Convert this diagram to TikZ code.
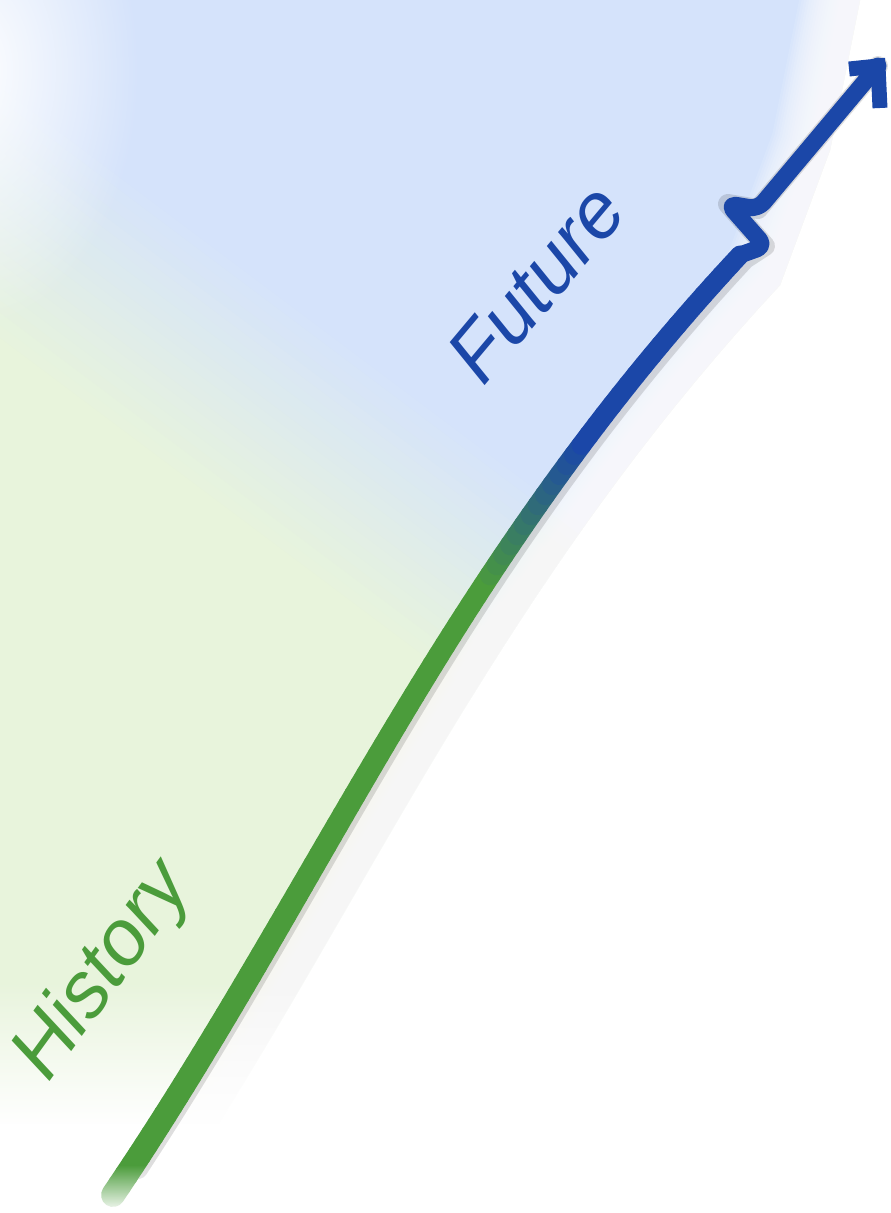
\documentclass[tikz,border=0pt]{standalone}
\usepackage{fontspec}
\setmainfont{Liberation Sans}
\usetikzlibrary{fadings}

\definecolor{skyblue}{HTML}{D5E3FB}
\definecolor{meadow}{HTML}{E8F4DC}
\definecolor{lineblue}{HTML}{1B47A8}
\definecolor{linegreen}{HTML}{4B9C3B}

\tikzfading[name=fade south, top color=transparent!100, bottom color=transparent!0]
\tikzfading[name=fade blob, inner color=transparent!0, outer color=transparent!100]

\def\pxw{0.567pt}

\tikzset{
  erafont/.style={font=\fontsize{45}{50}\selectfont\itshape, inner sep=0pt},
  soft shadow/.style={black, opacity=#1},
  timeline/.style={lineblue, line width=17*\pxw, rounded corners=5pt},
}

\begin{document}
\begin{tikzpicture}[x=0.02cm, y=-0.02cm, line join=round, line cap=round,
  declare function={linex(\x)=113+67.432*\x-2.968*\x*\x+0.3075*\x*\x*\x; liney(\x)=1195-100*\x;}]
\useasboundingbox (0,0) rectangle (891,1213);
% background: meadow below, sky above, blended along the line
\begin{scope}
  \clip (0,0) -- (860,0) -- (830,150) -- plot[domain=9.4:0, samples=40, variable=\x] ({linex(\x)+40},{liney(\x)+30}) -- (0,1213) -- cycle;
  \fill[meadow] (-10,-10) rectangle (900,1220);
  \foreach \k in {0,...,21} {
    \pgfmathsetmacro\ta{-280+10*\k}
    \pgfmathsetmacro\tb{\ta+11}
    \pgfmathsetmacro\mix{100*\k/21}
    \fill[skyblue!\mix!meadow] ({0.6*\ta-80},{-0.8*\ta-60}) -- ({0.6*\tb-80},{-0.8*\tb-60})
      -- ({0.6*\tb+1200},{-0.8*\tb+900}) -- ({0.6*\ta+1200},{-0.8*\ta+900}) -- cycle;
  }
  \fill[skyblue] (-116,-12) -- (280,-540) -- (1560,420) -- (1164,948) -- cycle;
\end{scope}
% soft right edge
\foreach \k in {1,...,24}
  \draw[white, opacity=0.11, line width=\k*5*\pxw] (860,0) -- (830,150) -- plot[domain=9.4:0, samples=40, variable=\x] ({linex(\x)+40},{liney(\x)+30});
\fill[white, path fading=fade blob] (-30,70) ellipse [x radius=3.4cm, y radius=5.2cm];
\fill[white, path fading=fade south] (-5,980) rectangle (896,1125);
\fill[white] (-5,1124) rectangle (896,1220);

\coordinate (now) at (740,255);
\coordinate (jag1) at (765,246);
\coordinate (jag2) at (728,204);
\coordinate (jag3) at (758,209);
\coordinate (tip) at (878,66);
\coordinate (barbL) at (849,69);
\coordinate (barbR) at (880,108);

% shadow of the line
\begin{scope}[shift={(5,4)}]
  \draw[soft shadow=0.13, line width=20*\pxw] plot[domain=0.3:9.4, samples=50, variable=\x] ({linex(\x)},{liney(\x)}) -- (jag1) -- (jag2) -- (jag3) -- (tip);
\end{scope}

% the line, green into blue
\foreach \i in {0,...,93} {
  \pgfmathsetmacro\ua{\i/10}
  \pgfmathsetmacro\ub{(\i+1)/10}
  \pgfmathsetmacro\mix{min(100,max(0,(\ua-6.1)/1.4*100))}
  \pgfmathsetmacro\w{24-5*\ua/9.4}
  \draw[line width=\w*\pxw, lineblue!\mix!linegreen] ({linex(\ua)},{liney(\ua)}) -- ({linex(\ub)},{liney(\ub)});
}
\fill[white, path fading=fade south] (60,1165) rectangle (200,1213);

\draw[timeline] (now) -- (jag1) -- (jag2) -- (jag3) -- (tip);
\draw[lineblue, line width=15*\pxw, line cap=butt, line join=miter] (barbL) -- (tip) -- (barbR);

\node[erafont, text=linegreen, rotate=54] (history) at (104,972) {History};
\node[erafont, text=lineblue, rotate=50] (future) at (536,283) {Future};
\end{tikzpicture}
\end{document}
